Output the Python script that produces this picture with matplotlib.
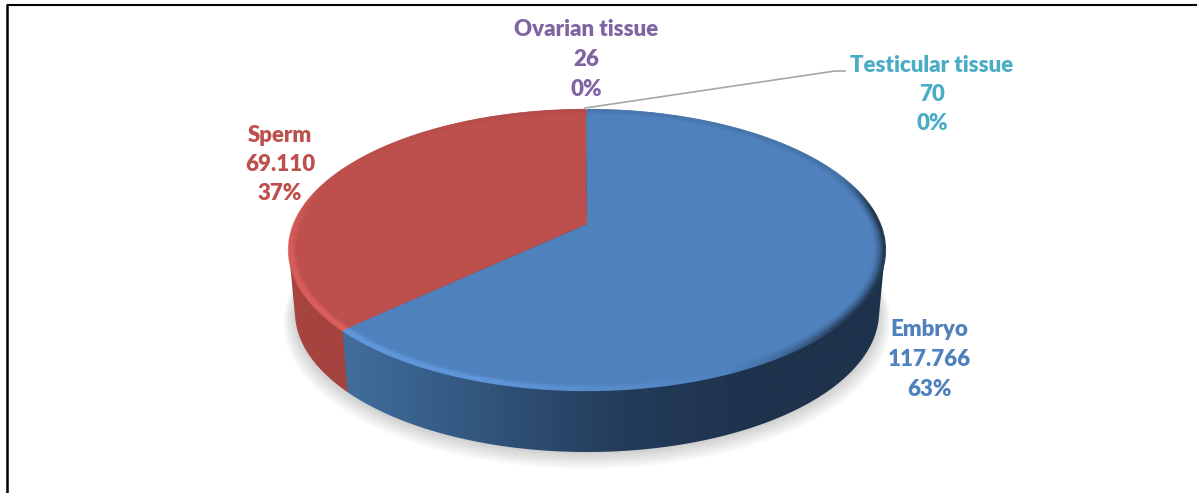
#!/usr/bin/env python3
"""Tilted 3D-style pie of stored material by tissue type."""
import numpy as np
import matplotlib
matplotlib.use("Agg")
import matplotlib.pyplot as plt
from matplotlib.collections import LineCollection
from matplotlib.colors import LinearSegmentedColormap
from matplotlib.patches import PathPatch
from matplotlib.path import Path

categories = ["Embryo", "Sperm", "Ovarian tissue", "Testicular tissue"]
values = [117766, 69110, 26, 70]
value_labels = ["117.766", "69.110", "26", "70"]
colors = ["#4F81BD", "#BD4F4C", "#8064A2", "#4BACC6"]

W, H = 1197, 493
# perspective of the disc, in pixels
CX, CY = 587.0, 224.0
KX, A, C = 292.8, -93.6, 0.1857
DEPTH = 62.0
BOTTOM_SCALE = 0.98


def project(theta, r=1.0, sx=1.0, dy=0.0):
    # theta is clockwise from 12 o'clock, in radians
    x = r * np.sin(theta)
    y = r * np.cos(theta)
    w = 1 + C * y
    return CX + sx * KX * x / w, (CY + A * y) / w + dy


def wedge_path(t0, t1):
    t = np.linspace(t0, t1, 300)
    px, py = project(t)
    verts = [(CX, CY)] + list(zip(px, py)) + [(CX, CY)]
    return Path(verts, closed=True)


def convex_hull(points):
    pts = sorted(set(points))
    if len(pts) < 3:
        return pts

    def half(seq):
        out = []
        for p in seq:
            while len(out) >= 2:
                (x1, y1), (x2, y2) = out[-2], out[-1]
                if (x2 - x1) * (p[1] - y1) - (y2 - y1) * (p[0] - x1) > 0:
                    break
                out.pop()
            out.append(p)
        return out[:-1]

    return half(pts) + half(pts[::-1])


def wall_path(t0, t1):
    # the hull spans top and bottom rims; its inner chord stays under the top face
    t = np.linspace(t0, t1, 400)
    px, py = project(t)
    bx, by = project(t, sx=BOTTOM_SCALE, dy=DEPTH)
    hull = convex_hull(list(zip(px, py)) + list(zip(bx, by)))
    return Path(hull + [hull[0]], closed=True)


def hex_rgb(c):
    return np.array(matplotlib.colors.to_rgb(c))


fig = plt.figure(figsize=(W / 100, H / 100), dpi=100)
ax = fig.add_axes([0, 0, 1, 1])
plt.rcParams["font.family"] = ["Lato", "DejaVu Sans"]

# soft shadow under the disc
for i in range(12):
    t = np.linspace(0, 2 * np.pi, 400)
    sx, sy = project(t, r=1.0 + i * 0.0035, sx=BOTTOM_SCALE, dy=DEPTH + 1 + i * 0.75)
    ax.fill(sx, sy, color="black", alpha=0.014, lw=0, zorder=1)

fracs = np.array(values, dtype=float) / sum(values)
edges = np.concatenate([[0], np.cumsum(fracs)]) * 2 * np.pi

# side wall gradients per slice
wall_stops = {
    "Embryo": ["#426F9F", "#33577F", "#243D5C", "#1E324C", "#1E324C"],
    "Sperm": ["#A94541", "#A5433F", "#A5433F"],
    "Ovarian tissue": ["#5F4A7A", "#5F4A7A"],
    "Testicular tissue": ["#2F7A8E", "#2F7A8E"],
}
grad_x = np.linspace(0, 1, 256).reshape(1, -1)
# reversed so the embryo wall sits on top of the sperm hull at their shared edge
for name, t0, t1 in reversed(list(zip(categories, edges[:-1], edges[1:]))):
    cmap = LinearSegmentedColormap.from_list(name, wall_stops[name])
    im = ax.imshow(grad_x, extent=[335, 890, H, 0] if name == "Embryo" else [285, 352, H, 0],
                   aspect="auto", cmap=cmap, zorder=2)
    im.set_clip_path(PathPatch(wall_path(t0, t1), transform=ax.transData))

# top faces
for c, t0, t1 in zip(colors, edges[:-1], edges[1:]):
    ax.add_patch(PathPatch(wedge_path(t0, t1), fc=c, ec="none", zorder=3))


def rim_strength(deg):
    # positive lightens the bevel, negative darkens it
    return np.interp(deg,
                     [0, 40, 68, 85, 130, 150, 165, 195, 226, 262, 278, 290, 360],
                     [-0.12, -0.15, -0.2, -1.0, -0.85, -0.15, 0.2, 0.85, 0.9, 0.8, 0.3, 0.0, -0.08])


# bevel along the rim of the top face
radii = np.linspace(0.955, 1.0, 17)
for c, t0, t1 in zip(colors[:2], edges[:2], edges[1:3]):
    base = hex_rgb(c)
    t = np.linspace(t0, t1, 500)
    deg = np.degrees(t)
    s = rim_strength(deg)
    for r in radii:
        px, py = project(t, r=r)
        pts = np.column_stack([px, py]).reshape(-1, 1, 2)
        segs = np.concatenate([pts[:-1], pts[1:]], axis=1)
        sm = s[:-1]
        light = np.clip(sm, 0, None)[:, None]
        dark = np.clip(-sm, 0, None)[:, None]
        # highlight hugs the edge, shade builds up towards it
        a_light = np.exp(-((r - 0.995) / 0.014) ** 2)
        a_dark = np.clip((r - 0.965) / 0.035, 0, 1) ** 1.5
        rgb = (base * (1 + 0.14 * light * a_light) + 0.035 * light * a_light) * (1 - 0.62 * dark * a_dark)
        rgba = np.column_stack([np.clip(rgb, 0, 1), np.ones(len(rgb))])
        ax.add_collection(LineCollection(segs, colors=rgba, linewidths=1.6,
                                         capstyle="butt", zorder=4))

# leader line up to the testicular tissue label
ax.plot([585, 835, 845], [108, 71, 71], color="#A6A6A6", lw=1.2, zorder=5)

label_pos = [(929, 330), (280, 135), (586, 30), (932, 65)]
for name, vlab, frac, c, (lx, ly) in zip(categories, value_labels, fracs, colors, label_pos):
    for k, line in enumerate([name, vlab, f"{frac:.0%}"]):
        ax.text(lx, ly + k * 29.5, line, color=c, fontsize=16, fontweight="heavy",
                ha="center", va="center", zorder=6)

# page rules at the top and left
ax.plot([7, W], [4.5, 4.5], color="black", lw=1.5, zorder=7, solid_capstyle="butt")
ax.plot([7, 7], [4, H], color="black", lw=1.8, zorder=7, solid_capstyle="butt")

ax.set_xlim(0, W)
ax.set_ylim(H, 0)
ax.axis("off")
fig.savefig("out.png", dpi=100, facecolor="white")
